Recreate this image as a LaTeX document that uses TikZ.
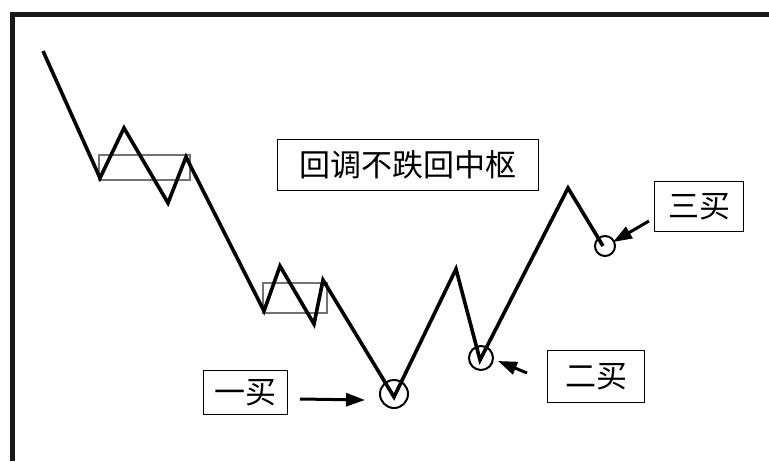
\documentclass[tikz,border=0pt]{standalone}
\usepackage{fontspec}
\newfontfamily\cjk{Noto Sans CJK SC}
\usetikzlibrary{arrows.meta}
\begin{document}
\begin{tikzpicture}[x=1pt,y=-1pt,
  frameline/.style={line width=5pt,draw=black!90},
  wave/.style={line width=3.6pt,line join=miter,miter limit=20},
  zhongshu/.style={draw=black!55,line width=1.2pt},
  labelbox/.style={draw,line width=1.4pt,font=\cjk\fontsize{31}{34}\selectfont,inner sep=0pt,anchor=north west},
  buy/.style={draw,line width=2pt,circle,inner sep=0pt},
  pointer/.style={line width=3pt,-{Triangle[length=19pt,width=13pt]}}]
\useasboundingbox (0,0) rectangle (769,461);
\draw[frameline] (10,14) -- (769,14);
\draw[frameline] (12.5,12) -- (12.5,461);
% zhongshu boxes
\draw[zhongshu] (99,155) rectangle (190,180);
\draw[zhongshu] (263,283) rectangle (327,313);
% price path
\coordinate (p0) at (43,51);
\coordinate (p1) at (100,178);
\coordinate (p2) at (124,128);
\coordinate (p3) at (168,203);
\coordinate (p4) at (186,157);
\coordinate (p5) at (264,311);
\coordinate (p6) at (280,266);
\coordinate (p7) at (314,324);
\coordinate (p8) at (323,280);
\coordinate (p9) at (394,397);
\coordinate (p10) at (456,269);
\coordinate (p11) at (480,360);
\coordinate (p12) at (568,188);
\coordinate (p13) at (603,246);
\draw[wave] (p0) -- (p1) -- (p2) -- (p3) -- (p4) -- (p5) -- (p6) -- (p7) -- (p8) -- (p9) -- (p10) -- (p11) -- (p12) -- (p13);
% circles
\node[buy,minimum size=28pt] (c1) at (394,394) {};
\node[buy,minimum size=24pt] (c2) at (481,358) {};
\node[buy,minimum size=20pt] (c3) at (605,246) {};
% labels
\node[labelbox,minimum width=261pt,minimum height=51pt] (title) at (277,139) {回调不跌回中枢};
\node[labelbox,minimum width=84pt,minimum height=44pt] (b1) at (203,370) {一买};
\node[labelbox,minimum width=97pt,minimum height=52pt] (b2) at (547,350) {二买};
\node[labelbox,minimum width=89pt,minimum height=50pt] (b3) at (654,181) {三买};
% arrows
\coordinate (a1s) at (300,399);
\coordinate (a1e) at (365,400);
\coordinate (a2s) at (527,373);
\coordinate (a2e) at (498,361);
\coordinate (a3s) at (649,221);
\coordinate (a3e) at (613,242);
\draw[pointer] (a1s) -- (a1e);
\draw[pointer] (a2s) -- (a2e);
\draw[pointer] (a3s) -- (a3e);
\end{tikzpicture}
\end{document}
